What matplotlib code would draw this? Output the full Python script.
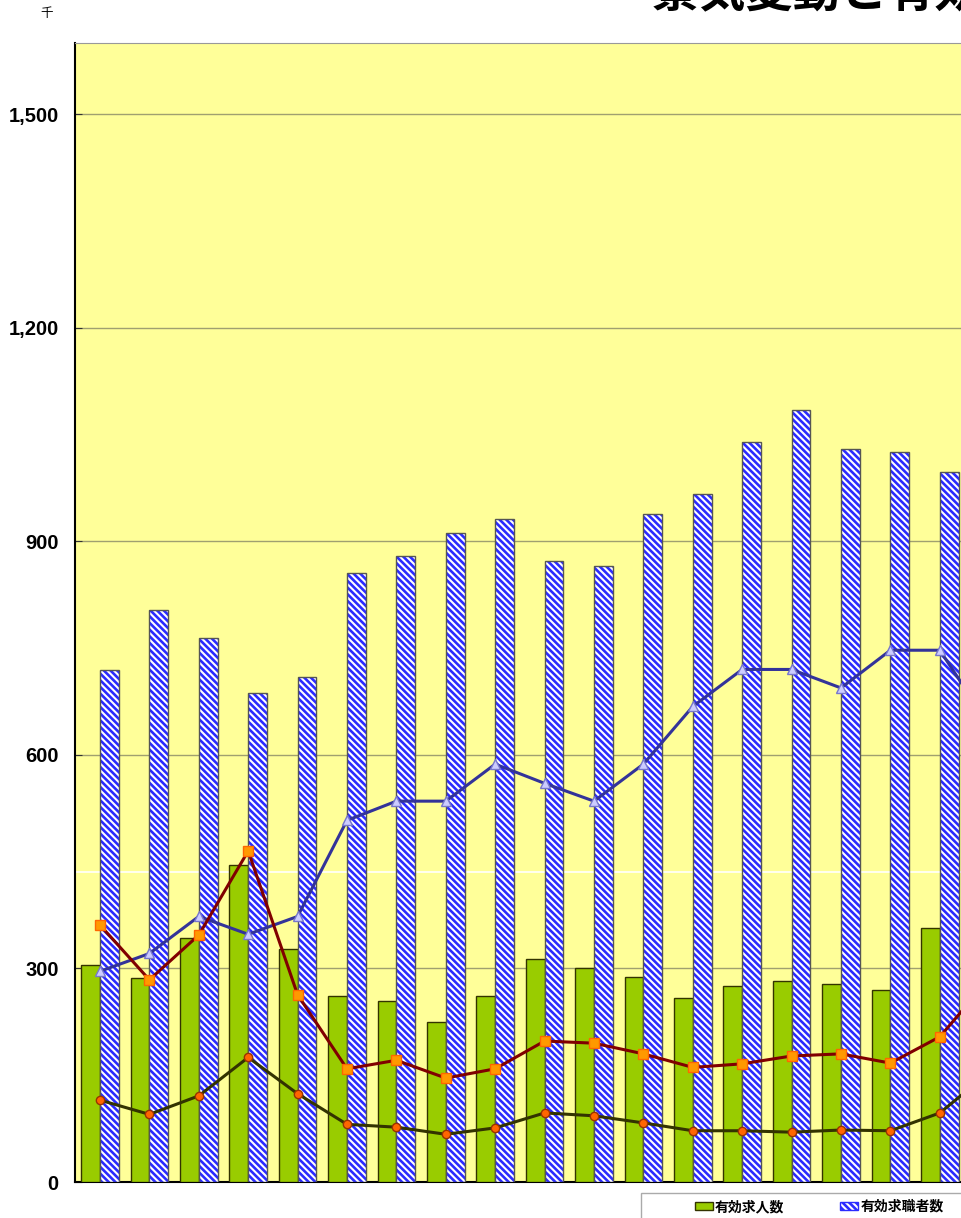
import numpy as np
import matplotlib.pyplot as plt
from matplotlib.patches import Rectangle
from matplotlib.patches import Patch

plt.rcParams["font.family"] = ["Noto Sans CJK JP", "DejaVu Sans"]
plt.rcParams["hatch.linewidth"] = 1.9

# 有効求人数 / 有効求職者数 (千人)
openings = [305, 286, 343, 446, 328, 261, 254, 225, 261, 313,
            300, 288, 258, 275, 282, 278, 270, 357]
seekers = [719, 804, 764, 687, 710, 856, 879, 911, 932, 872,
           866, 939, 967, 1040, 1085, 1030, 1025, 997]

# line series (one point more than the bars, partly outside the crop)
new_seekers = [296, 321, 373, 348, 373, 508, 535, 535, 587, 560,
               535, 587, 668, 720, 720, 694, 747, 747, 642]
new_openings = [361, 284, 347, 465, 263, 159, 171, 146, 159, 198,
                195, 180, 161, 166, 177, 180, 167, 204, 285]
placements = [115, 95, 121, 175, 124, 81, 77, 67, 76, 97,
              93, 83, 72, 72, 70, 73, 72, 97, 154]

yticks = [0, 300, 600, 900, 1200, 1500]
ytick_labels = ["0", "300", "600", "900", "1,200", "1,500"]

W, H = 962, 1218
fig = plt.figure(figsize=(W / 100, H / 100), dpi=100)

ncat = len(new_seekers)
cat_px = 49.4
left_px = 75.3
ax = fig.add_axes([left_px / W, (H - 1182) / H,
                   ncat * cat_px / W, (1182 - 43) / H])
ax.set_facecolor("#FFFF99")

x = np.arange(len(openings))
bw = 0.38
ax.bar(x - bw / 2, openings, bw, color="#99CC00",
       edgecolor="#333300", linewidth=1, zorder=3)
ax.bar(x + bw / 2, seekers, bw, color="white", hatch="\\\\\\\\\\",
       edgecolor="#2B2BFF", linewidth=0, zorder=3)
ax.bar(x + bw / 2, seekers, bw, color="none",
       edgecolor="#555555", linewidth=1, zorder=3)

xl = np.arange(ncat)
ax.plot(xl, new_seekers, color="#333399", lw=2.2, marker="^", ms=7,
        mfc="#CCCCFF", mec="#7777CC", mew=1, zorder=5)
ax.plot(xl, new_openings, color="#800000", lw=2.2, marker="s", ms=7,
        mfc="#FF9900", mec="#FF6600", zorder=5)
ax.plot(xl, placements, color="#333300", lw=2.2, marker="o", ms=6,
        mfc="#FF6600", mec="#993300", zorder=5)

ax.set_xlim(-0.5, ncat - 0.5)
ax.set_ylim(0, 1600)
ax.set_xticks([])
ax.set_yticks(yticks)
ax.set_yticklabels(ytick_labels, family="Liberation Sans",
                   fontweight="bold", fontsize=14.5)
ax.tick_params(axis="y", direction="in", length=5, pad=12, color="#333333")

ax.grid(axis="y", color="#A0A070", lw=1, zorder=0)
ax.axhline(435, color="white", lw=1.2, zorder=1)

ax.spines["left"].set_color("black")
ax.spines["left"].set_linewidth(1.5)
ax.spines["bottom"].set_color("black")
ax.spines["bottom"].set_linewidth(1.5)
ax.spines["top"].set_color("#999999")
ax.spines["right"].set_visible(False)

fig.text(47 / W, 1 - 14 / H, "千", fontsize=9, ha="center", va="center")
fig.text(652 / W, 1 - 7 / H, "景気変動と有効求人倍率の推移",
         fontsize=34, fontweight="bold", ha="left", va="baseline")

# legend box (extends past the crop)
fig.patches.append(Rectangle((641 / W, -0.05), 0.5, 0.05 + (H - 1193) / H,
                             transform=fig.transFigure, facecolor="white",
                             edgecolor="#AAAAAA", lw=1, zorder=0))

h_open = Patch(facecolor="#99CC00", edgecolor="#333300", label="有効求人数")
h_seek = Patch(facecolor="white", edgecolor="#2B2BFF", hatch="\\\\\\\\\\",
               label="有効求職者数")
fig.legend(handles=[h_open, h_seek], ncol=2,
           loc="upper left", bbox_to_anchor=(695 / W, 1 - 1200 / H),
           frameon=False, borderpad=0, fontsize=10, handlelength=1.3,
           handleheight=0.5, handletextpad=0.15, columnspacing=4,
           borderaxespad=0, prop={"weight": "bold", "size": 10})

fig.savefig("out.png", dpi=100)
